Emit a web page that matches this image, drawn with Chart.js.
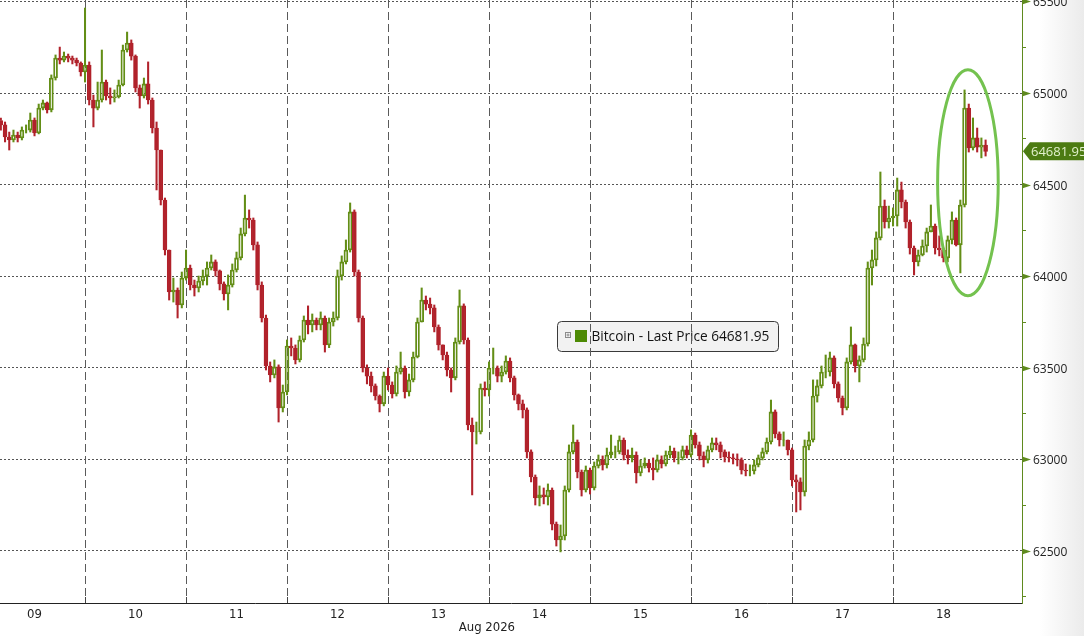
<!DOCTYPE html>
<html>
<head>
<meta charset="utf-8">
<title>Bitcoin - Last Price</title>
<script src="https://cdn.jsdelivr.net/npm/chart.js@4.4.1/dist/chart.umd.min.js"></script>
<style>
  html, body { margin: 0; padding: 0; }
  body { width: 1084px; height: 636px; overflow: hidden;
         background: linear-gradient(to right, #ffffff 0px, #ffffff 1040px, #ebebeb 1084px); }
  canvas { display: block; }
</style>
</head>
<body>
<canvas id="chart" width="1084" height="636"></canvas>
<script>
// ---------------- data (hourly candles, hour 0 = 09 Aug 00:00) ----------------
const seriesName = 'Bitcoin - Last Price';
const lastPrice = 64681.95;
const firstHour = 4;
const firstOpen = 64850;

const closes = [
  // 09
  64826, 64760, 64744, 64771, 64755, 64798, 64798, 64853, 64782, 64918, 64946, 64908, 65082, 65191, 65180, 65202, 65191, 65180, 65164, 65115,
  // 10
  65153, 64962, 64918, 64962, 65060, 64984, 64973, 64979, 65044, 65235, 65273, 65202, 65028, 64984, 65050, 64962, 64809, 64689, 64416, 64143, 63914, 63925, 63843, 63990,
  // 11
  64045, 63952, 63936, 63974, 64001, 64045, 64078, 64029, 63958, 63903, 63952, 64034, 64100, 64231, 64318, 64307, 64171, 63952, 63772, 63510, 63461, 63505, 63281, 63368,
  // 12
  63619, 63608, 63543, 63652, 63761, 63734, 63761, 63734, 63772, 63625, 63750, 63772, 64001, 64078, 64143, 64351, 64023, 63772, 63499, 63455, 63401, 63346, 63303, 63455,
  // 13
  63406, 63357, 63477, 63499, 63368, 63434, 63559, 63750, 63870, 63848, 63827, 63723, 63625, 63570, 63488, 63445, 63641, 63838, 63652, 63188, 63150, 63150, 63390, 63379,
  // 14
  63499, 63499, 63455, 63477, 63537, 63445, 63352, 63303, 63270, 63041, 62904, 62789, 62806, 62795, 62833, 62647, 62560, 62582, 62833, 63041, 63095, 62931, 62833, 62942,
  // 15
  62844, 62964, 62997, 62970, 63024, 63041, 63041, 63106, 63024, 63008, 63024, 62926, 62964, 62980, 62953, 62942, 62997, 62975, 63024, 63046, 63008, 63008, 63052, 63024,
  // 16
  63133, 63079, 63019, 62997, 63052, 63090, 63079, 63041, 63013, 63008, 63002, 62997, 62942, 62937, 62937, 62970, 63008, 63041, 63095, 63259, 63139, 63106, 63106, 63052,
  // 17
  62888, 62877, 62822, 63073, 63106, 63346, 63401, 63477, 63477, 63554, 63412, 63335, 63281, 63532, 63625, 63510, 63543, 63630, 64045, 64089, 64209, 64383, 64296, 64318,
  // 18
  64329, 64471, 64405, 64296, 64154, 64078, 64116, 64165, 64242, 64274, 64154, 64143, 64100, 64198, 64307, 64171, 64389, 64918, 64700, 64755, 64705, 64716, 64681.95
];

const highs = [
  64864, 64842, 64787, 64798, 64787, 64815, 64826, 64891, 64864, 64940, 64962, 64951, 65099, 65208, 65251, 65224, 65213, 65202, 65191, 65170,
  65464, 65170, 64989, 65060, 65235, 65071, 65028, 65017, 65071, 65262, 65333, 65290, 65208, 65044, 65082, 65170, 64973, 64842, 64689, 64427, 64143, 63990, 63936, 64023,
  64143, 64061, 63979, 64001, 64034, 64078, 64116, 64089, 64034, 63969, 64007, 64067, 64132, 64263, 64443, 64362, 64318, 64187, 63969, 63788, 63532, 63543, 63516, 63406,
  63652, 63663, 63625, 63674, 63783, 63838, 63794, 63772, 63805, 63783, 63772, 63805, 64034, 64111, 64198, 64400, 64362, 64034, 63783, 63516, 63477, 63412, 63352, 63477,
  63499, 63423, 63510, 63586, 63510, 63466, 63586, 63772, 63936, 63892, 63881, 63843, 63734, 63625, 63586, 63499, 63663, 63925, 63849, 63663, 63226, 63204, 63412, 63423,
  63532, 63608, 63510, 63510, 63565, 63554, 63455, 63357, 63324, 63281, 63052, 62915, 62855, 62844, 62866, 62844, 62658, 62642, 62855, 63079, 63188, 63106, 62942, 62964,
  62953, 62986, 63024, 63019, 63062, 63133, 63073, 63128, 63117, 63052, 63062, 63041, 62997, 63008, 62997, 63008, 63024, 63019, 63046, 63073, 63062, 63041, 63073, 63073,
  63161, 63144, 63095, 63041, 63073, 63117, 63117, 63095, 63052, 63041, 63030, 63030, 63008, 62975, 62970, 62997, 63024, 63062, 63117, 63324, 63270, 63150, 63150, 63106,
  63062, 62915, 62899, 63106, 63150, 63434, 63434, 63510, 63570, 63586, 63565, 63423, 63346, 63554, 63723, 63630, 63565, 63663, 64078, 64143, 64242, 64569, 64416, 64383,
  64373, 64536, 64514, 64416, 64307, 64165, 64143, 64198, 64263, 64389, 64285, 64220, 64154, 64220, 64351, 64318, 64416, 65017, 64940, 64864, 64809, 64755, 64744
];

const lows = [
  64798, 64733, 64689, 64733, 64733, 64744, 64782, 64787, 64766, 64777, 64908, 64891, 64897, 65071, 65159, 65170, 65170, 65159, 65148, 65093,
  65060, 64935, 64815, 64908, 64951, 64962, 64940, 64951, 64973, 65039, 65224, 65180, 65006, 64918, 64973, 64940, 64782, 64471, 64389, 64116, 63870, 63859, 63772, 63827,
  63979, 63925, 63892, 63914, 63952, 63952, 64034, 64001, 63925, 63870, 63816, 63941, 64023, 64089, 64220, 64263, 64143, 63925, 63750, 63488, 63423, 63445, 63204, 63259,
  63352, 63565, 63521, 63532, 63641, 63685, 63696, 63707, 63707, 63586, 63610, 63728, 63761, 63979, 64067, 64132, 64001, 63750, 63477, 63412, 63368, 63324, 63259, 63292,
  63379, 63335, 63346, 63466, 63335, 63346, 63423, 63554, 63750, 63816, 63794, 63696, 63597, 63543, 63455, 63368, 63434, 63630, 63630, 63161, 62806, 63084, 63139, 63346,
  63346, 63466, 63423, 63423, 63466, 63423, 63324, 63270, 63226, 63008, 62877, 62751, 62746, 62757, 62751, 62615, 62527, 62495, 62560, 62822, 63030, 62899, 62800, 62822,
  62811, 62833, 62953, 62942, 62953, 63008, 63008, 63030, 62997, 62975, 62986, 62871, 62910, 62953, 62931, 62888, 62931, 62953, 62964, 63008, 62986, 62975, 62997, 63008,
  63013, 63062, 62997, 62959, 62980, 63041, 63052, 63008, 62986, 62986, 62975, 62964, 62920, 62910, 62910, 62920, 62959, 62997, 63030, 63084, 63117, 63073, 63073, 63024,
  62855, 62713, 62724, 62800, 63052, 63095, 63313, 63390, 63445, 63455, 63390, 63313, 63243, 63270, 63521, 63477, 63423, 63532, 63619, 63952, 64056, 64198, 64263, 64263,
  64274, 64274, 64373, 64263, 64121, 64007, 64056, 64111, 64132, 64242, 64121, 64111, 64078, 64078, 64176, 64165, 64018, 64378, 64678, 64689, 64678, 64646, 64656
];

const dayLabels = ['09', '10', '11', '12', '13', '14', '15', '16', '17', '18'];
const monthLabel = 'Aug 2026';
const monthLabelHour = 119.5;
const yLabelTicks = [62500, 63000, 63500, 64000, 64500, 65000, 65500];
const xStartHour = 3.8, xEndHour = 246.65;
const yMin = 62216, yMax = 65508;
const highlight = { hour: 233.8, price: 64510, hourRadius: 7.2, priceRadius: 617 };

// ---------------- derived structures ----------------
const GREEN = '#638e16', RED = '#b1222b', AXIS_GREEN = '#5f8a1e', TAG_GREEN = '#4c7b12', LEGEND_GREEN = '#4d8a04';
const hours = closes.map((_, i) => firstHour + i);
const opens = closes.map((c, i) => i === 0 ? firstOpen : closes[i - 1]);
const up = closes.map((c, i) => c >= opens[i]);
const bodyData = hours.map((h, i) => ({ x: h, y: [opens[i], closes[i]] }));
const upperWick = hours.map((h, i) => ({ x: h, y: [Math.max(opens[i], closes[i]), highs[i]] }));
const lowerWick = hours.map((h, i) => ({ x: h, y: [lows[i], Math.min(opens[i], closes[i])] }));
const candleColor = ctx => up[ctx.dataIndex] ? GREEN : RED;

const dayCenterHours = dayLabels.map((_, i) => 12 + 24 * i);
const dayBoundaryHours = dayLabels.slice(1).map((_, i) => 24 * (i + 1));
const xTickHours = [...dayCenterHours, ...dayBoundaryHours].sort((a, b) => a - b);
const yAllTicks = yLabelTicks.flatMap(v => [v - 250, v]);

const narrowFont = '"Liberation Sans Narrow", "DejaVu Sans Condensed", "Arial Narrow", sans-serif';

const overlayPlugin = {
  id: 'overlay',
  beforeDraw(chart) {
    const c = chart.ctx;
    c.save();
    c.beginPath();
    c.roundRect(557.5, 321.5, 221, 30, 4);
    c.fillStyle = '#f2f2f2';
    c.fill();
    c.strokeStyle = '#3a3a3a';
    c.lineWidth = 1;
    c.stroke();
    c.strokeStyle = '#8c8c8c';
    c.strokeRect(565.5, 332.5, 5, 5);
    c.beginPath();
    c.moveTo(566.5, 335); c.lineTo(569.5, 335);
    c.moveTo(568, 333.5); c.lineTo(568, 336.5);
    c.stroke();
    c.fillStyle = LEGEND_GREEN;
    c.fillRect(575, 330, 12, 12);
    const txt = seriesName + ' ' + lastPrice.toFixed(2);
    c.font = '13px "Open Sans"';
    const w = c.measureText(txt).width;
    const size = 13 * 178 / w;
    c.font = size.toFixed(2) + 'px "Open Sans"';
    c.fillStyle = '#111';
    c.textBaseline = 'middle';
    c.textAlign = 'left';
    c.fillText(txt, 591.5, 337);
    c.restore();
  },
  afterDraw(chart) {
    const c = chart.ctx, xs = chart.scales.x, ys = chart.scales.y, area = chart.chartArea;
    c.save();
    c.strokeStyle = '#444';
    c.lineWidth = 1;
    dayBoundaryHours.forEach(h => {
      const px = Math.round(xs.getPixelForValue(h)) + 0.5;
      c.beginPath();
      c.moveTo(px, area.bottom);
      c.lineTo(px, area.bottom - 6);
      c.stroke();
    });
    c.font = '13px ' + narrowFont;
    c.fillStyle = '#222';
    c.textAlign = 'center';
    c.textBaseline = 'middle';
    c.fillText(monthLabel, xs.getPixelForValue(monthLabelHour), 628);
    c.textAlign = 'left';
    c.font = '12px "Open Sans"';
    yLabelTicks.forEach(v => {
      const py = Math.round(ys.getPixelForValue(v)) + 0.5;
      c.fillStyle = AXIS_GREEN;
      c.beginPath();
      c.moveTo(area.right, py - 3);
      c.lineTo(area.right + 9, py);
      c.lineTo(area.right, py + 3);
      c.closePath();
      c.fill();
      c.fillStyle = '#222';
      c.fillText(String(v), area.right + 11, py + 1);
    });
    const ly = ys.getPixelForValue(lastPrice);
    c.fillStyle = TAG_GREEN;
    c.beginPath();
    c.moveTo(area.right + 1, ly);
    c.lineTo(area.right + 8, ly - 9);
    c.lineTo(chart.width, ly - 9);
    c.lineTo(chart.width, ly + 9);
    c.lineTo(area.right + 8, ly + 9);
    c.closePath();
    c.fill();
    c.fillStyle = '#e2f1cc';
    c.font = '13px "Open Sans"';
    c.fillText(lastPrice.toFixed(2), area.right + 9, ly + 1);
    const cx = xs.getPixelForValue(highlight.hour), cy = ys.getPixelForValue(highlight.price);
    const rx = Math.abs(xs.getPixelForValue(highlight.hour + highlight.hourRadius) - cx);
    const ry = Math.abs(ys.getPixelForValue(highlight.price + highlight.priceRadius) - cy);
    c.beginPath();
    c.ellipse(cx, cy, rx, ry, 0, 0, Math.PI * 2);
    c.strokeStyle = '#74c24f';
    c.lineWidth = 3;
    c.stroke();
    c.restore();
  }
};

new Chart(document.getElementById('chart').getContext('2d'), {
  type: 'bar',
  data: {
    datasets: [
      { label: 'upper', data: upperWick, barThickness: 1.4, backgroundColor: candleColor, borderWidth: 0, grouped: false, order: 2 },
      { label: 'lower', data: lowerWick, barThickness: 1.4, backgroundColor: candleColor, borderWidth: 0, grouped: false, order: 2 },
      { label: seriesName, data: bodyData, barThickness: 4,
        backgroundColor: ctx => up[ctx.dataIndex] ? 'rgba(0,0,0,0)' : RED,
        borderColor: candleColor, borderWidth: 1.2, borderSkipped: false, grouped: false, order: 1 }
    ]
  },
  options: {
    responsive: false,
    animation: false,
    devicePixelRatio: 1,
    events: [],
    layout: { padding: 0 },
    plugins: { legend: { display: false }, tooltip: { enabled: false } },
    scales: {
      x: {
        type: 'linear', min: xStartHour, max: xEndHour, offset: false,
        afterBuildTicks: ax => { ax.ticks = xTickHours.map(v => ({ value: v })); },
        grid: {
          offset: false, drawTicks: false, lineWidth: 1,
          color: ctx => (ctx.tick && ctx.tick.value % 24 === 0) ? '#5a5a5a' : 'rgba(0,0,0,0)'
        },
        border: { display: true, color: '#222', width: 1, dash: [8, 4] },
        ticks: {
          autoSkip: false, maxRotation: 0, minRotation: 0, padding: 4, color: '#222',
          font: { family: narrowFont, size: 13 },
          callback: v => (v % 24 === 12) ? dayLabels[(v - 12) / 24] : ''
        },
        afterFit: ax => { ax.height = 33; }
      },
      y: {
        type: 'linear', position: 'right', min: yMin, max: yMax,
        afterBuildTicks: ax => { ax.ticks = yAllTicks.map(v => ({ value: v })); },
        grid: {
          drawTicks: true, tickLength: 4, tickWidth: 1, tickColor: AXIS_GREEN, lineWidth: 1,
          color: ctx => (ctx.tick && ctx.tick.value % 500 === 0) ? '#555' : 'rgba(0,0,0,0)'
        },
        border: { display: true, color: AXIS_GREEN, width: 1, dash: [2, 2] },
        ticks: { display: false },
        afterFit: ax => { ax.width = 62; }
      }
    }
  },
  plugins: [overlayPlugin]
});
</script>
</body>
</html>
